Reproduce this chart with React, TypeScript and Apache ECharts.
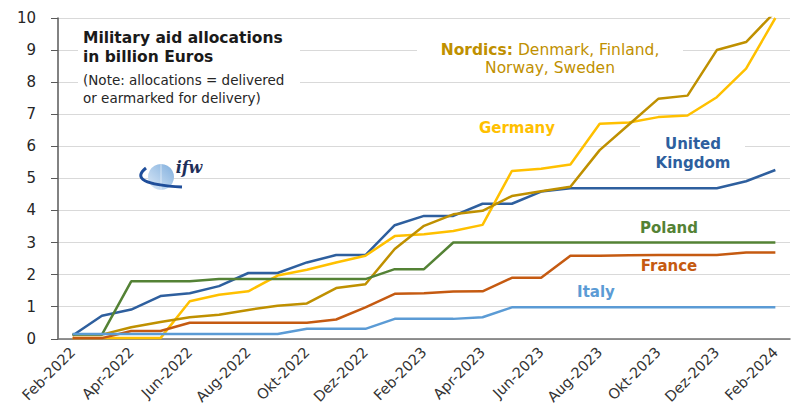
import React, { useEffect, useRef } from 'react';
import * as echarts from 'echarts';

const months = ['Feb-2022','Mar-2022','Apr-2022','Mai-2022','Jun-2022','Jul-2022','Aug-2022','Sep-2022','Okt-2022','Nov-2022','Dez-2022','Jan-2023','Feb-2023','Mär-2023','Apr-2023','Mai-2023','Jun-2023','Jul-2023','Aug-2023','Sep-2023','Okt-2023','Nov-2023','Dez-2023','Jan-2024','Feb-2024'];

const unitedKingdom = [0.1,0.72,0.91,1.33,1.42,1.64,2.05,2.05,2.38,2.61,2.61,3.54,3.83,3.83,4.21,4.21,4.59,4.69,4.69,4.69,4.69,4.69,4.69,4.91,5.26];
const germany = [0.02,0.02,0.02,0.02,1.17,1.37,1.48,1.97,2.15,2.38,2.59,3.2,3.26,3.36,3.55,5.23,5.3,5.43,6.7,6.74,6.91,6.96,7.53,8.42,10.0];
const nordics = [0.13,0.13,0.36,0.52,0.67,0.75,0.9,1.03,1.1,1.58,1.7,2.8,3.52,3.88,3.99,4.45,4.6,4.74,5.88,6.68,7.48,7.58,9.0,9.25,10.2];
const poland = [0.13,0.13,1.79,1.79,1.79,1.86,1.86,1.86,1.86,1.86,1.86,2.17,2.17,3.0,3.0,3.0,3.0,3.0,3.0,3.0,3.0,3.0,3.0,3.0,3.0];
const france = [0.02,0.02,0.24,0.24,0.5,0.5,0.5,0.5,0.5,0.6,0.98,1.4,1.42,1.47,1.48,1.9,1.9,2.59,2.59,2.6,2.61,2.61,2.61,2.69,2.69];
const italy = [0.15,0.15,0.15,0.15,0.15,0.15,0.15,0.15,0.31,0.31,0.31,0.62,0.62,0.62,0.67,0.98,0.98,0.98,0.98,0.98,0.98,0.98,0.98,0.98,0.98];

const yTicks = [0, 10, 1];

const C = {
  uk: '#2E5F9E',
  germany: '#FFC000',
  nordics: '#BF9000',
  poland: '#548235',
  france: '#C55A11',
  italy: '#5B9BD5',
};

const FONT = '"DejaVu Sans", sans-serif';

export default function App() {
  const ref = useRef<HTMLDivElement>(null);
  useEffect(() => {
    const chart = echarts.init(ref.current!, null, { renderer: 'svg' });
    const line = (name: string, data: number[], color: string) => ({
      name,
      type: 'line',
      data,
      symbol: 'none',
      lineStyle: { color, width: 2.5 },
      itemStyle: { color },
      clip: true,
    });
    const label = (text: string, x: number, y: number, color: string, lh = 19) => ({
      type: 'text',
      x,
      y,
      z: 100,
      style: {
        text,
        fill: color,
        fontFamily: FONT,
        fontSize: 15,
        fontWeight: 'bold',
        align: 'center',
        verticalAlign: 'middle',
        lineHeight: lh,
      },
    });
    chart.setOption({
      animation: false,
      backgroundColor: '#ffffff',
      grid: { left: 58, right: 8, top: 18, bottom: 67, containLabel: false },
      xAxis: {
        type: 'category',
        data: months,
        boundaryGap: true,
        axisLine: { show: true, lineStyle: { color: '#6f6f6f', width: 1.5 } },
        axisTick: { show: false },
        axisLabel: {
          interval: 1,
          rotate: 45,
          fontFamily: FONT,
          fontSize: 14.5,
          color: '#333333',
          margin: 11,
        },
        splitLine: { show: false },
      },
      yAxis: {
        type: 'value',
        min: yTicks[0],
        max: yTicks[1],
        interval: yTicks[2],
        axisLine: { show: true, lineStyle: { color: '#595959', width: 1.5 } },
        axisTick: { show: true, length: 7, lineStyle: { color: '#595959' } },
        axisLabel: { fontFamily: FONT, fontSize: 15, color: '#262626', margin: 22 },
        splitLine: { show: true, lineStyle: { color: '#d9d9d9', width: 1 } },
      },
      series: [
        line('United Kingdom', unitedKingdom, C.uk),
        line('Germany', germany, C.germany),
        line('Nordics', nordics, C.nordics),
        line('France', france, C.france),
        line('Poland', poland, C.poland),
        line('Italy', italy, C.italy),
      ],
      graphic: [
        { type: 'rect', z: 90, shape: { x: 78, y: 24, width: 222, height: 82 }, style: { fill: '#ffffff' } },
        {
          type: 'text', x: 83, y: 47, z: 100,
          style: {
            text: 'Military aid allocations\nin billion Euros',
            fill: '#1a1a1a', fontFamily: FONT, fontSize: 15.5, fontWeight: 'bold',
            align: 'left', verticalAlign: 'middle', lineHeight: 19,
          },
        },
        {
          type: 'text', x: 83, y: 89, z: 100,
          style: {
            text: '(Note: allocations = delivered\nor earmarked for delivery)',
            fill: '#262626', fontFamily: FONT, fontSize: 13.5, fontWeight: 'normal',
            align: 'left', verticalAlign: 'middle', lineHeight: 18,
          },
        },
        { type: 'rect', z: 90, shape: { x: 417, y: 38, width: 266, height: 40 }, style: { fill: '#ffffff' } },
        {
          type: 'text', x: 550, y: 59, z: 100,
          style: {
            text: '{b|Nordics:}{n| Denmark, Finland,}\n{n|Norway, Sweden}',
            fill: C.nordics, fontFamily: FONT, fontSize: 15.5,
            align: 'center', verticalAlign: 'middle', lineHeight: 18,
            rich: {
              b: { fontFamily: FONT, fontSize: 15.5, fontWeight: 'bold', fill: C.nordics, lineHeight: 18 },
              n: { fontFamily: FONT, fontSize: 15.5, fontWeight: 'normal', fill: C.nordics, lineHeight: 18 },
            },
          },
        },
        label('Germany', 517, 128, C.germany),
        { type: 'rect', z: 90, shape: { x: 640, y: 134, width: 105, height: 38 }, style: { fill: '#ffffff' } },
        label('United\nKingdom', 693, 153, C.uk),
        label('Poland', 669, 228, C.poland),
        label('France', 669, 266, C.france),
        label('Italy', 596, 292, C.italy),
        {
          type: 'circle', z: 95,
          shape: { cx: 161, cy: 177, r: 13 },
          style: {
            fill: new echarts.graphic.LinearGradient(1, 0, 0, 1, [
              { offset: 0, color: '#7FAEDD' },
              { offset: 1, color: '#DDEAF7' },
            ]),
          },
        },
        {
          type: 'line', z: 95,
          shape: { x1: 161, y1: 164, x2: 161, y2: 190 },
          style: { stroke: '#ffffff', lineWidth: 0.8, opacity: 0.7 },
        },
        {
          type: 'bezierCurve', z: 96,
          shape: { x1: 146, y1: 168, cpx1: 126, cpy1: 184, x2: 182, y2: 187 },
          style: { stroke: '#1F4E9A', lineWidth: 3, fill: 'none' },
        },
        {
          type: 'text', x: 189, y: 167, z: 97,
          style: {
            text: 'ifw', fill: '#1F2F5A', fontFamily: '"DejaVu Serif", serif',
            fontSize: 16, fontWeight: 'bold', fontStyle: 'italic',
            align: 'center', verticalAlign: 'middle',
          },
        },
      ],
    });
    return () => chart.dispose();
  }, []);
  return <div ref={ref} style={{ position: 'fixed', left: 0, top: 0, width: 798, height: 407 }} />;
}
